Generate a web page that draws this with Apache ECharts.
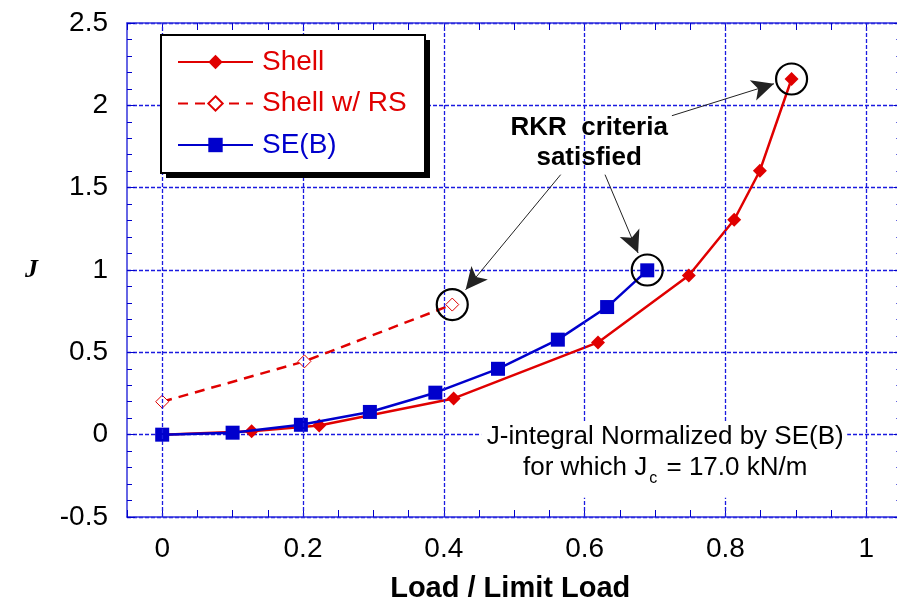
<!DOCTYPE html>
<html><head><meta charset="utf-8">
<script src="https://cdn.jsdelivr.net/npm/echarts@6/dist/echarts.min.js"></script>
<style>html,body{margin:0;padding:0;background:#fff}#c{width:897px;height:605px}</style>
</head><body><div id="c"></div>
<script>
// ---- data ----
const shellX = [0, 0.127, 0.223, 0.414, 0.619, 0.748, 0.8125, 0.849, 0.894];
const shellY = [0, 0.02, 0.056, 0.22, 0.56, 0.967, 1.305, 1.603, 2.16];
const rsX = [0, 0.202, 0.412];
const rsY = [0.2, 0.445, 0.79];
const sebX = [0, 0.1, 0.197, 0.295, 0.388, 0.477, 0.562, 0.632, 0.689];
const sebY = [0, 0.012, 0.06, 0.138, 0.255, 0.40, 0.577, 0.775, 0.998];
const circleX = [0.412, 0.689, 0.894];
const circleY = [0.79, 1.0, 2.16];
// arrows: start and tip, in data units
const arrowStartX = [0.566, 0.629, 0.724];
const arrowStartY = [1.579, 1.579, 1.937];
const arrowTipX = [0.431, 0.676, 0.869];
const arrowTipY = [0.880, 1.103, 2.131];
const xGridTicks = [0, 0.2, 0.4, 0.6, 0.8, 1.0];
const xTickLabels = ['0', '0.2', '0.4', '0.6', '0.8', '1'];
const seriesNames = ['Shell', 'Shell w/ RS', 'SE(B)'];
const annotationText = 'RKR  criteria\nsatisfied';
const noteLine1 = 'J-integral Normalized by SE(B)';
const noteLine2 = ['for which J', 'c', ' = 17.0 kN/m'];
const rkrPos = [0.6065, 1.773];
const notePos1 = [0.7145, -0.012];
const notePos2 = [0.7145, -0.20];
const noteBoxA = [0.453, 0.073];
const noteBoxB = [0.973, -0.383];

// ---- style ----
const RED = '#e00000', BLUE = '#0000cc', GRID = '#1a1ae0', AXIS = '#3333dd';
const FONT = '"Liberation Sans", Arial, sans-serif';
const zip = (xs, ys) => xs.map((x, i) => [x, ys[i]]);
const LEG = {left: 161, top: 35, width: 264, height: 138};

const chart = echarts.init(document.getElementById('c'), null, {renderer: 'canvas'});

const xBase = {
  type: 'value', min: -0.05, max: 1.05, interval: 0.05,
  axisLine: {show: true, onZero: false, lineStyle: {color: AXIS, width: 1.5}},
  axisTick: {show: true, inside: true, length: 7, lineStyle: {color: BLUE, width: 1}},
  splitLine: {show: false}
};
const yBase = {
  type: 'value', min: -0.5, max: 2.5, interval: 0.5,
  axisLine: {show: true, onZero: false, lineStyle: {color: AXIS, width: 1.5}},
  axisTick: {show: true, inside: true, length: 8, lineStyle: {color: BLUE, width: 1}},
  minorTick: {show: true, splitNumber: 5, length: 5, lineStyle: {color: BLUE, width: 1}}
};

const option = {
  animation: false,
  backgroundColor: '#fff',
  grid: {left: 127, top: 23, width: 774.4, height: 494, outerBoundsMode: 'none', containLabel: false},
  legend: {
    orient: 'vertical', left: LEG.left, top: LEG.top, z: 8,
    itemWidth: 75, itemHeight: 18, itemGap: 13.5,
    padding: [13, 18, 14, 16],
    selectedMode: false,
    textStyle: {fontSize: 28, fontFamily: FONT, lineHeight: 28, padding: [0, 0, 0, 4]},
    data: [
      {name: seriesNames[0], textStyle: {color: RED}},
      {name: seriesNames[1], textStyle: {color: RED}},
      {name: seriesNames[2], textStyle: {color: BLUE}}
    ]
  },
  xAxis: [
    Object.assign({}, xBase, {
      position: 'bottom',
      axisLabel: {
        margin: 18, fontSize: 28, color: '#000', fontFamily: FONT,
        formatter: v => {
          const i = xGridTicks.findIndex(t => Math.abs(t - v) < 1e-6);
          return i >= 0 ? xTickLabels[i] : '';
        }
      },
      name: 'Load / Limit Load', nameLocation: 'middle', nameGap: 57,
      nameTextStyle: {fontSize: 29, fontWeight: 'bold', fontFamily: FONT, color: '#000', padding: [0, 8, 0, 0]}
    }),
    Object.assign({}, xBase, {position: 'top', axisLabel: {show: false}})
  ],
  yAxis: [
    Object.assign({}, yBase, {
      position: 'left',
      axisLabel: {margin: 19, fontSize: 28, color: '#000', fontFamily: FONT},
      splitLine: {show: true, lineStyle: {color: GRID, type: [4, 2], width: 1.3}},
      name: 'J', nameLocation: 'middle', nameRotate: 0, nameGap: 89,
      nameTextStyle: {fontFamily: '"Liberation Serif", "Times New Roman", serif', fontStyle: 'italic', fontWeight: 'bold', fontSize: 26, color: '#000'}
    }),
    Object.assign({}, yBase, {position: 'right', axisLabel: {show: false}, splitLine: {show: false}})
  ],
  series: [
    {
      name: 'xgrid', type: 'line', data: [], z: 1, silent: true,
      markLine: {
        silent: true, symbol: 'none', animation: false,
        label: {show: false},
        lineStyle: {color: GRID, type: [4, 2], width: 1.3},
        data: xGridTicks.map(v => ({xAxis: v}))
      }
    },
    {
      name: seriesNames[0], type: 'line', data: zip(shellX, shellY),
      symbol: 'diamond', symbolSize: 14, z: 3,
      lineStyle: {color: RED, width: 2.5},
      itemStyle: {color: RED}
    },
    {
      name: seriesNames[1], type: 'line', data: zip(rsX, rsY),
      symbol: 'diamond', symbolSize: 13, z: 3,
      lineStyle: {color: RED, width: 2.5, type: [10, 7]},
      itemStyle: {color: '#fff', borderColor: RED, borderWidth: 1}
    },
    {
      name: seriesNames[2], type: 'line', data: zip(sebX, sebY),
      symbol: 'rect', symbolSize: 14, z: 4,
      lineStyle: {color: BLUE, width: 2.5},
      itemStyle: {color: BLUE}
    },
    {
      name: 'circles', type: 'scatter', data: zip(circleX, circleY),
      symbol: 'circle', symbolSize: 31, z: 5, silent: true,
      itemStyle: {color: 'rgba(0,0,0,0)', borderColor: '#000', borderWidth: 2.2, opacity: 1},
      markLine: {
        silent: true, animation: false,
        symbol: ['none', 'arrow'], symbolSize: [16, 22],
        label: {show: false},
        lineStyle: {color: '#222', width: 1, type: 'solid', opacity: 1},
        data: arrowStartX.map((x, i) => [
          {coord: [x, arrowStartY[i]]},
          {coord: [arrowTipX[i], arrowTipY[i]]}
        ])
      }
    }
  ]
};
chart.setOption(option);

const px = p => chart.convertToPixel({gridIndex: 0}, p);
const r = px(rkrPos), n1 = px(notePos1), n2 = px(notePos2), bA = px(noteBoxA), bB = px(noteBoxB);
chart.setOption({
  graphic: [
    {type: 'rect', z: 6, silent: true, shape: {x: LEG.left + 5, y: LEG.top + 5, width: LEG.width, height: LEG.height}, style: {fill: '#000'}},
    {type: 'rect', z: 7, silent: true, shape: {x: LEG.left, y: LEG.top, width: LEG.width, height: LEG.height}, style: {fill: '#fff', stroke: '#000', lineWidth: 2}},
    {type: 'rect', z: 6, silent: true, shape: {x: bA[0], y: bA[1], width: bB[0] - bA[0], height: bB[1] - bA[1]}, style: {fill: '#fff'}},
    {type: 'text', z: 7, x: r[0], y: r[1], style: {
      text: annotationText, fontSize: 26, fontWeight: 'bold', fontFamily: FONT, fill: '#000',
      lineHeight: 30, align: 'center', verticalAlign: 'middle', textAlign: 'center', textVerticalAlign: 'middle'}},
    {type: 'text', z: 7, x: n1[0], y: n1[1], style: {
      text: noteLine1, fontSize: 26, fontFamily: FONT, fill: '#000',
      align: 'center', verticalAlign: 'middle', textAlign: 'center', textVerticalAlign: 'middle'}},
    {type: 'text', z: 7, x: n2[0], y: n2[1], style: {
      text: '{a|' + noteLine2[0] + '}{s|' + noteLine2[1] + '}{a|' + noteLine2[2] + '}',
      fontSize: 26, fontFamily: FONT, fill: '#000',
      align: 'center', verticalAlign: 'middle', textAlign: 'center', textVerticalAlign: 'middle',
      rich: {
        a: {fontSize: 26, fontFamily: FONT, fill: '#000', color: '#000'},
        s: {fontSize: 16, fontFamily: FONT, fill: '#000', color: '#000', padding: [22, 2, 0, 2]}
      }}}
  ]
}, {replaceMerge: ['graphic']});
</script></body></html>
